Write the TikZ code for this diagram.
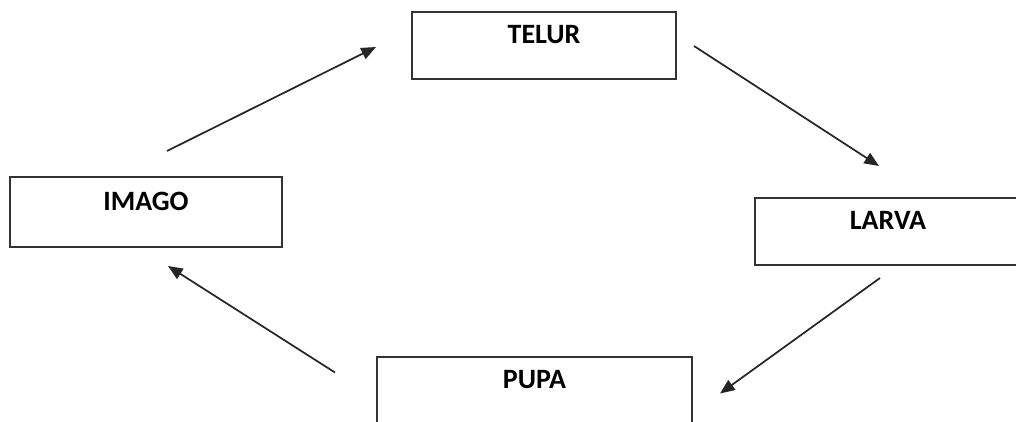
\documentclass[tikz,border=0pt]{standalone}
\usepackage{fontspec}
\setmainfont{Carlito}
\usepackage{tikz}
\usetikzlibrary{shapes,arrows,arrows.meta,positioning}

\begin{document}
\begin{tikzpicture}[x=0.75pt, y=-0.75pt]
    % Estilos
    \tikzstyle{block} = [rectangle, draw=black!80, line width=1.5pt, minimum height=67*0.75pt, text height=13.5pt, text depth=16pt, inner sep=0pt, font=\fontsize{21}{25}\selectfont\bfseries]
    \tikzstyle{line} = [draw=black!85, line width=1.3pt, -{Triangle[length=11pt, width=9pt]}]

    \useasboundingbox (0,0) rectangle (1016,421);

    % Nós
    \node [block, minimum width=264*0.75pt] (telur) at (544,45) {TELUR};
    \node [block, minimum width=266*0.75pt] (larva) at (888,231.5) {LARVA};
    \node [block, minimum width=315*0.75pt] (pupa) at (534.5,390.5) {PUPA};
    \node [block, minimum width=272*0.75pt, minimum height=70*0.75pt] (imago) at (146,212) {IMAGO};

    % Conexões
    \path [line] ([shift={(21,-25)}]imago.north) -- ([shift={(-35,2)}]telur.west);
    \path [line] ([shift={(17,1)}]telur.east) -- ([shift={(-9,-31)}]larva.north);
    \path [line] ([shift={(-8,12)}]larva.south) -- ([shift={(27,3)}]pupa.east);
    \path [line] ([shift={(-41,-18)}]pupa.west) -- ([shift={(22,18)}]imago.south);
\end{tikzpicture}
\end{document}
